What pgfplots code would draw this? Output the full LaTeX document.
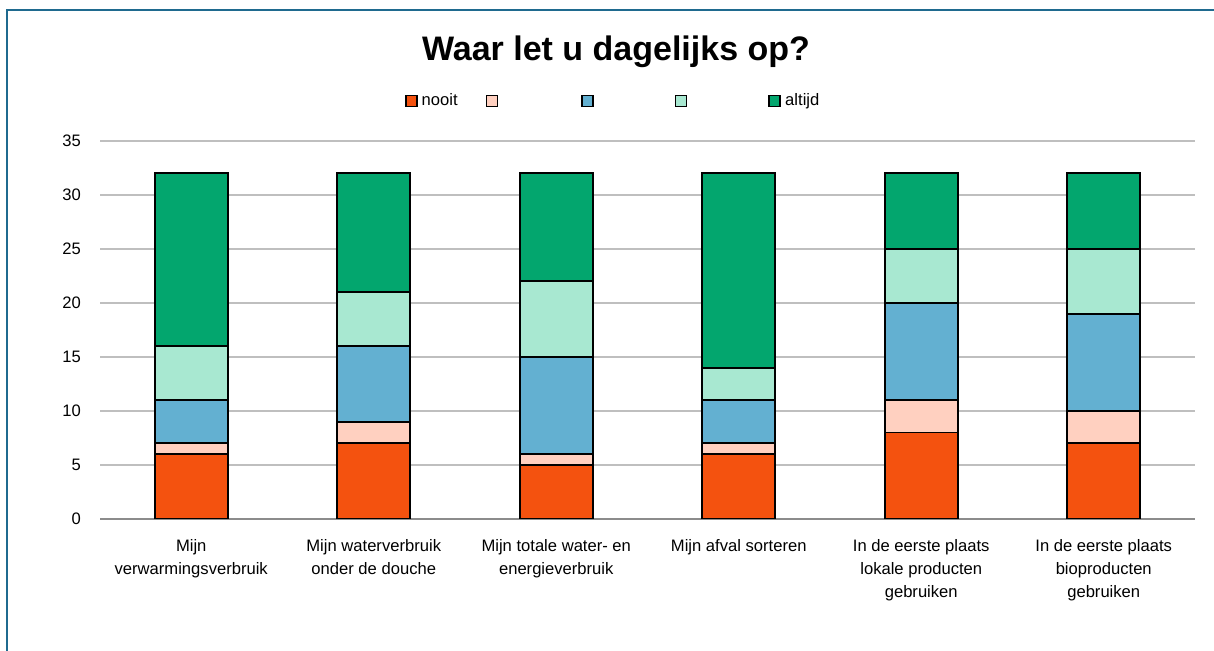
\documentclass[border=0pt]{standalone}
\usepackage{fontspec}
\setmainfont{Liberation Sans}
\usepackage{pgfplots}
\pgfplotsset{compat=1.18}
\definecolor{cA}{HTML}{F4520F}
\definecolor{cB}{HTML}{FFD0C0}
\definecolor{cC}{HTML}{63B0D1}
\definecolor{cD}{HTML}{A8E8D1}
\definecolor{cE}{HTML}{03A66E}
\definecolor{frameblue}{HTML}{1F6A8F}
\begin{document}
\begin{tikzpicture}[x=1pt,y=1pt]
\useasboundingbox (0pt,0pt) rectangle (607pt,325.5pt);
\draw[line width=1.1pt, color=frameblue] (3.5pt,0pt) -- (3.5pt,320.3pt) -- (607pt,320.3pt);
\node[font=\fontsize{17}{19}\selectfont\bfseries] at (308pt,299.5pt) {Waar let u dagelijks op?};
\begin{axis}[
  at={(50pt,66pt)}, anchor=south west, scale only axis,
  width=547.5pt, height=189pt,
  ybar stacked, bar width=36.5pt,
  xmin=-0.5, xmax=5.5, ymin=0, ymax=35,
  ytick={0,5,...,35}, xtick={0,...,5},
  xticklabels={{Mijn\\verwarmingsverbruik},{Mijn waterverbruik\\onder de douche},{Mijn totale water- en\\energieverbruik},{Mijn afval sorteren},{In de eerste plaats\\lokale producten\\gebruiken},{In de eerste plaats\\bioproducten\\gebruiken}},
  xticklabel style={align=center, font=\fontsize{8.3}{11.5}\selectfont, anchor=north, yshift=-6.5pt},
  yticklabel style={font=\fontsize{8.3}{10}\selectfont, xshift=-6pt},
  /pgf/number format/assume math mode=true,
  ymajorgrids, grid style={color=black!25, line width=0.7pt},
  axis lines*=left,
  y axis line style={draw=none},
  x axis line style={color=black!45, line width=0.9pt, -},
  major tick length=0pt,
  legend columns=5,
  legend style={draw=none, fill=none, at={(0.474,1.106)}, anchor=center, font=\fontsize{8.3}{10}\selectfont, /tikz/every even column/.append style={column sep=0pt}},
  legend image code/.code={\draw[#1, line width=0.9pt] (0pt,-2.75pt) rectangle (5.5pt,2.75pt);},
  every axis plot/.append style={draw=black, line width=0.9pt},
]
\addplot[fill=cA] coordinates {(0,6) (1,7) (2,5) (3,6) (4,8) (5,7)};
\addlegendentry{\makebox[30pt][l]{nooit}}
\addplot[fill=cB] coordinates {(0,1) (1,2) (2,1) (3,1) (4,3) (5,3)};
\addlegendentry{\makebox[37.2pt][l]{}}
\addplot[fill=cC] coordinates {(0,4) (1,7) (2,9) (3,4) (4,9) (5,9)};
\addlegendentry{\makebox[36.5pt][l]{}}
\addplot[fill=cD] coordinates {(0,5) (1,5) (2,7) (3,3) (4,5) (5,6)};
\addlegendentry{\makebox[36.5pt][l]{}}
\addplot[fill=cE] coordinates {(0,16) (1,11) (2,10) (3,18) (4,7) (5,7)};
\addlegendentry{\makebox[22pt][l]{altijd}}
\end{axis}
\end{tikzpicture}
\end{document}
